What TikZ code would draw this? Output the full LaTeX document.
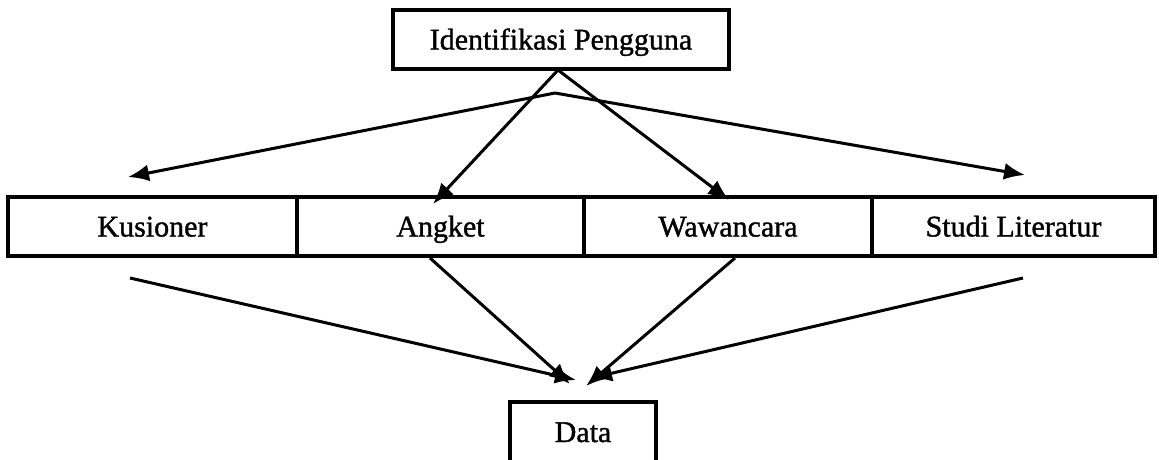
\documentclass[tikz,border=0pt]{standalone}
\usepackage{fontspec}
\setmainfont{Liberation Serif}[FakeBold=1.2]
\usetikzlibrary{arrows.meta}
\begin{document}
\begin{tikzpicture}[x=1pt,y=-1pt,
  lbl/.style={font=\fontsize{30}{34}\selectfont,text height=23pt,text depth=3pt},
  box/.style={draw=black,line width=3.2pt,rectangle,inner sep=0pt,anchor=center,lbl},
  conn/.style={draw=black,line width=3pt,-{Latex[length=21pt,width=17pt]}}]
\useasboundingbox (0,0) rectangle (1159,459);
\clip (0,0) rectangle (1159,459);
\node[box,minimum width=336pt,minimum height=59pt] (top) at (561,39.5) {Identifikasi Pengguna};
\node[box,minimum width=289pt,minimum height=59pt] (kus) at (152.5,226.5) {Kusioner};
\node[box,minimum width=287pt,minimum height=59pt] (ang) at (440.5,226.5) {Angket};
\node[box,minimum width=288pt,minimum height=59pt] (waw) at (728,226.5) {Wawancara};
\node[box,minimum width=283pt,minimum height=59pt] (stu) at (1013.5,226.5) {Studi Literatur};
\node[box,minimum width=146pt,minimum height=80pt] (data) at (583,442) {};
\node[lbl,inner sep=0pt] (datatext) at (583,432) {Data};
% apex points
\coordinate (apexA) at (558,70);
\coordinate (apexB) at (555,93);
% arrow tips
\coordinate (kusTip) at (128,177);
\coordinate (angTip) at (433,204);
\coordinate (wawTip) at (729,200);
\coordinate (stuTip) at (1025,175);
% bottom starts
\coordinate (kusOut) at (130,278);
\coordinate (angOut) at (430,258);
\coordinate (wawOut) at (735,258);
\coordinate (stuOut) at (1023,278);
% data tips
\coordinate (dTip1) at (576,380);
\coordinate (dTip2) at (570,384);
\coordinate (dTip3) at (586,386);
\coordinate (dTip4) at (591,378);
\draw[conn] (apexA) -- (angTip);
\draw[conn] (apexA) -- (wawTip);
\draw[conn] (apexB) -- (kusTip);
\draw[conn] (apexB) -- (stuTip);
\draw[conn] (kusOut) -- (dTip1);
\draw[conn] (angOut) -- (dTip2);
\draw[conn] (wawOut) -- (dTip3);
\draw[conn] (stuOut) -- (dTip4);
\end{tikzpicture}
\end{document}
